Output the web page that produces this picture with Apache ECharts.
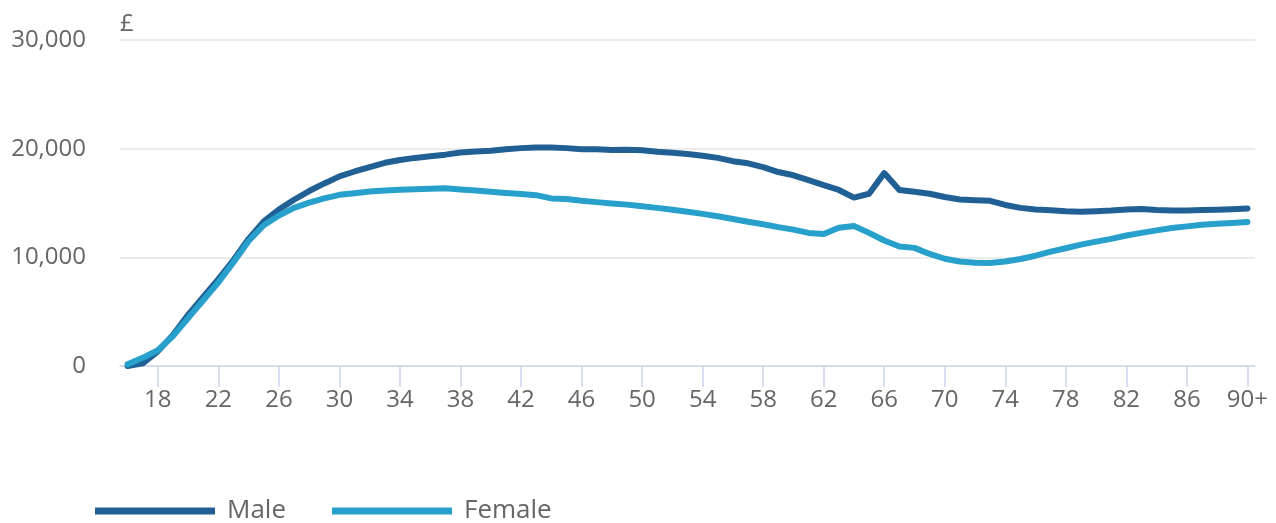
<!DOCTYPE html>
<html>
<head>
<meta charset="utf-8">
<script src="https://cdn.jsdelivr.net/npm/echarts@6/dist/echarts.min.js"></script>
<style>
  html, body { margin: 0; padding: 0; background: #fff; }
  #chart { width: 1276px; height: 523px; }
</style>
</head>
<body>
<div id="chart"></div>
<script>
// Ages 16 to 90+ (the last age is shown as "90+")
const ages = [16,17,18,19,20,21,22,23,24,25,26,27,28,29,30,31,32,33,34,35,36,37,38,39,40,
  41,42,43,44,45,46,47,48,49,50,51,52,53,54,55,56,57,58,59,60,61,62,63,64,65,66,67,68,69,70,
  71,72,73,74,75,76,77,78,79,80,81,82,83,84,85,86,87,88,89,90];

// Median income by age, £
const male = [0,250,1350,2850,4700,6350,8000,9750,11700,13300,14400,15300,16100,16800,17450,
  17900,18300,18700,18950,19150,19300,19450,19650,19750,19800,19950,20050,20100,20100,20050,
  19950,19950,19880,19900,19850,19720,19630,19500,19350,19150,18850,18650,18300,17850,17550,
  17100,16650,16200,15500,15850,17750,16200,16030,15850,15550,15330,15260,15200,14820,14550,
  14400,14330,14240,14200,14250,14300,14400,14450,14350,14300,14300,14350,14380,14430,14500];

const female = [150,750,1450,2750,4400,6050,7700,9550,11500,12950,13850,14550,15030,15430,15750,
  15900,16050,16150,16210,16260,16300,16350,16250,16150,16030,15930,15830,15720,15420,15370,
  15200,15080,14950,14850,14700,14550,14380,14200,14000,13780,13530,13280,13050,12780,12550,
  12250,12150,12720,12880,12250,11550,10990,10870,10310,9870,9620,9500,9480,9620,9850,
  10150,10520,10840,11170,11450,11700,12010,12250,12480,12700,12850,13000,13080,13150,13250];

const tickAges = [18,22,26,30,34,38,42,46,50,54,58,62,66,70,74,78,82,86,90];
const yTicks = [0, 10000, 20000, 30000];

const FONT = '"Open Sans", "Noto Sans", sans-serif';
const TEXT = '#666666';

const pairs = (vals) => ages.map((a, i) => [a, vals[i]]);

const chart = echarts.init(document.getElementById('chart'), null, { renderer: 'canvas' });
chart.setOption({
  animation: false,
  backgroundColor: '#ffffff',
  grid: { left: 120, right: 21, top: 40, bottom: 157, containLabel: false },
  legend: {
    left: 90,
    top: 493,
    icon: 'rect',
    itemWidth: 120,
    itemHeight: 7,
    itemGap: 46,
    textStyle: { fontFamily: FONT, fontSize: 26, color: TEXT, padding: [0, 0, 0, 7] },
    data: ['Male', 'Female']
  },
  xAxis: {
    type: 'value',
    min: 15.5,
    max: 90.5,
    axisLine: { show: true, lineStyle: { color: '#ccd6eb', width: 1.5 } },
    axisTick: { show: true, customValues: tickAges, length: 21, lineStyle: { color: '#ccd6eb', width: 1.5 } },
    axisLabel: {
      customValues: tickAges,
      formatter: (v) => (v === 90 ? '90+' : String(v)),
      fontFamily: FONT, fontSize: 24, color: TEXT, margin: 22
    },
    splitLine: { show: false }
  },
  yAxis: {
    type: 'value',
    min: yTicks[0],
    max: yTicks[yTicks.length - 1],
    interval: 10000,
    name: '£',
    nameLocation: 'end',
    nameGap: 4,
    nameTextStyle: { fontFamily: FONT, fontSize: 24, color: TEXT, align: 'left', verticalAlign: 'bottom', padding: [0, 0, 0, 0] },
    axisLine: { show: false },
    axisTick: { show: false },
    axisLabel: {
      formatter: (v) => v.toLocaleString('en-GB'),
      fontFamily: FONT, fontSize: 24, color: TEXT, margin: 34
    },
    splitLine: { show: true, lineStyle: { color: '#e6e6e6', width: 1.5 } }
  },
  series: [
    {
      name: 'Male', type: 'line', data: pairs(male), showSymbol: false, symbol: 'none',
      color: '#206095',
      lineStyle: { width: 6, color: '#206095', cap: 'round', join: 'round' }
    },
    {
      name: 'Female', type: 'line', data: pairs(female), showSymbol: false, symbol: 'none',
      color: '#27a0cc',
      lineStyle: { width: 6, color: '#27a0cc', cap: 'round', join: 'round' }
    }
  ]
});
</script>
</body>
</html>
